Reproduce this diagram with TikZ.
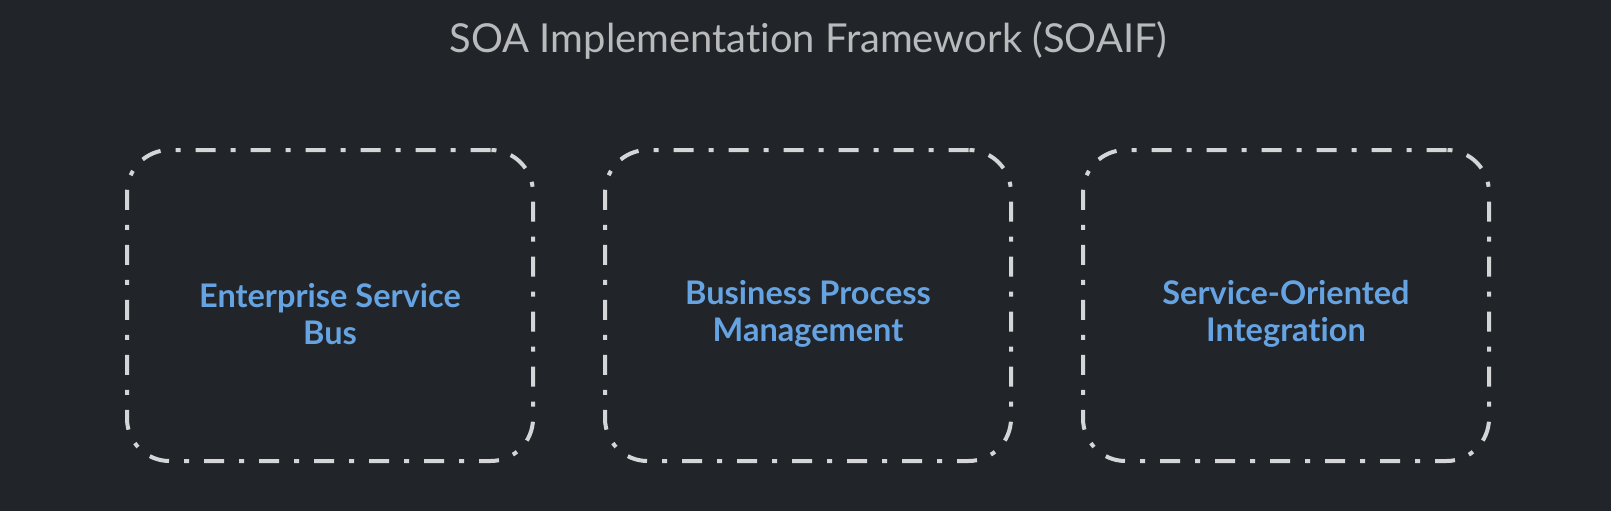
\documentclass[tikz,border=0pt]{standalone}
\usepackage{fontspec}
\setmainfont{Lato}[Ligatures=NoCommon]
\usetikzlibrary{positioning}

\definecolor{bgdark}{RGB}{33,37,41}
\definecolor{titlegray}{RGB}{185,186,188}
\definecolor{boxgray}{RGB}{212,213,215}
\definecolor{labelblue}{RGB}{102,163,226}
\newcommand{\toppad}{\rule{0pt}{0.82cm}}

\begin{document}
\begin{tikzpicture}[node distance= 9.56cm]
      \fill[bgdark] (0,0) rectangle (32.22,-10.22);
      \useasboundingbox (0,0) rectangle (32.22,-10.22);
      \node[text= titlegray, font= \fontsize{22.7}{27}\selectfont] (title) at (16.17,-0.81) {SOA Implementation Framework (SOAIF)};
      \begin{scope}[every node/.style={draw= boxgray, line width= 0.08cm, rounded corners= 0.85cm,
          dash pattern= on 0.4cm off 0.3cm on 0.1cm off 0.3cm,
          minimum width= 8.12cm, minimum height= 6.22cm, align= center,
          text= labelblue, font= \bfseries\fontsize{18.5}{21}\selectfont}]
        \node (esb) at (6.6,-6.11) {\toppad Enterprise Service\\Bus};
        \node (bpm) [right of= esb] {\toppad Business Process\\Management};
        \node (soi) [right of= bpm] {\toppad Service-Oriented\\Integration};
      \end{scope}
    \end{tikzpicture}
\end{document}
